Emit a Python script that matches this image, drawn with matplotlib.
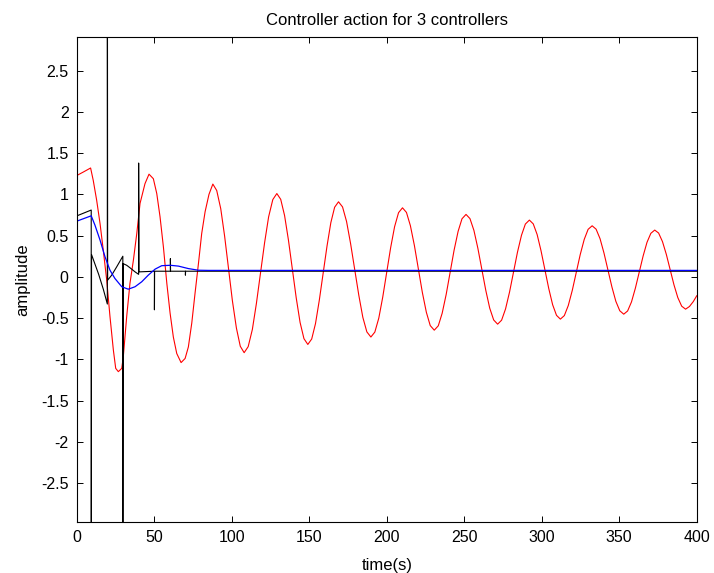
import matplotlib
matplotlib.use("Agg")
import matplotlib.pyplot as plt
from matplotlib.ticker import FormatStrFormatter

plt.rcParams['font.family'] = ['Liberation Sans', 'DejaVu Sans']
plt.rcParams['axes.unicode_minus'] = False

title = "Controller action for 3 controllers"
xlabel = "time(s)"
ylabel = "amplitude"
xticks = [0, 50, 100, 150, 200, 250, 300, 350, 400]
yticks = [-2.5, -2, -1.5, -1, -0.5, 0, 0.5, 1, 1.5, 2, 2.5]

# red controller
red_t = [0, 4, 8.8, 10.5, 12.7, 14.9, 17.0, 19.2, 21.3, 23.5, 25.0, 26.7, 28.9, 29.9,
         32.1, 34.2, 36.4, 38.6, 40.7, 43.9, 46.5, 49.3, 51.5, 53.6, 55.8, 58.0, 60.1,
         62.2, 64.4, 67.2, 69.8, 71.9, 74.1, 76.2, 78.4, 80.5, 82.7, 85.2, 87.7,
         90.2, 92.8, 95.3, 97.8, 100.3, 102.9, 105.4, 107.9,
         110.5, 113.2, 115.8, 118.45, 121.1, 123.7, 126.4, 129.0,
         131.5, 134.0, 136.5, 139.0, 141.5, 144.0, 146.5, 149.0,
         151.5, 153.95, 156.4, 158.9, 161.4, 163.85, 166.3, 168.8,
         171.4, 174.0, 176.6, 179.25, 181.9, 184.5, 187.1, 189.7,
         192.25, 194.8, 197.35, 199.9, 202.45, 205.0, 207.55, 210.1,
         212.66, 215.2, 217.8, 220.35, 222.9, 225.5, 228.0, 230.6,
         233.2, 235.7, 238.3, 240.85, 243.4, 246.0, 248.5, 251.1,
         253.65, 256.2, 258.75, 261.3, 263.85, 266.4, 268.95, 271.5,
         274.06, 276.6, 279.2, 281.75, 284.3, 286.9, 289.4, 292.0,
         294.5, 297.0, 299.5, 302.0, 304.5, 307.0, 309.5, 312.0,
         314.56, 317.1, 319.7, 322.25, 324.8, 327.4, 329.9, 332.5,
         335.05, 337.6, 340.15, 342.7, 345.25, 347.8, 350.35, 352.9,
         355.4, 357.9, 360.4, 362.9, 365.4, 367.9, 370.4, 372.9,
         375.4, 377.9, 380.4, 382.85, 385.3, 387.8, 390.3, 392.8,
         395.3, 397.8, 400.0]
red_v = [1.23, 1.27, 1.32, 1.17, 0.93, 0.645, 0.32, -0.04, -0.48, -0.89, -1.11, -1.15, -1.11, -0.97,
         -0.48, -0.08, 0.2, 0.525, 0.89, 1.13, 1.245, 1.19, 1.01, 0.73, 0.36, -0.08, -0.44,
         -0.73, -0.93, -1.04, -0.99, -0.85, -0.56, -0.2, 0.16, 0.525, 0.79, 1.0, 1.125,
         1.047, 0.826, 0.493, 0.103, -0.288, -0.621, -0.842, -0.92,
         -0.847, -0.638, -0.324, 0.045, 0.414, 0.728, 0.937, 1.01,
         0.94, 0.743, 0.444, 0.095, -0.254, -0.553, -0.750, -0.82,
         -0.754, -0.567, -0.285, 0.045, 0.375, 0.657, 0.844, 0.91,
         0.848, 0.671, 0.403, 0.09, -0.223, -0.491, -0.668, -0.73,
         -0.67, -0.501, -0.246, 0.054, 0.353, 0.608, 0.778, 0.837,
         0.781, 0.620, 0.378, 0.095, -0.188, -0.430, -0.591, -0.647,
         -0.594, -0.442, -0.213, 0.055, 0.323, 0.552, 0.704, 0.757,
         0.706, 0.563, 0.346, 0.092, -0.163, -0.380, -0.523, -0.574,
         -0.526, -0.39, -0.184, 0.057, 0.298, 0.504, 0.64, 0.688,
         0.642, 0.513, 0.317, 0.088, -0.142, -0.338, -0.467, -0.513,
         -0.47, -0.348, -0.163, 0.053, 0.269, 0.454, 0.576, 0.619,
         0.578, 0.463, 0.288, 0.083, -0.122, -0.297, -0.412, -0.453,
         -0.414, -0.304, -0.138, 0.057, 0.252, 0.418, 0.528, 0.567,
         0.531, 0.427, 0.271, 0.088, -0.096, -0.252, -0.356, -0.392,
         -0.36, -0.30, -0.23]

# black controller (with switching spikes)
black_t = [0, 9.2, 9.2, 9.4, 14, 17, 19.6, 19.6, 19.8, 22.4, 25.6, 29.6, 29.6, 29.8,
           32.1, 34.2, 37.5, 39.8, 39.8, 40.0, 50, 50, 50.1, 60.3, 60.3, 60.4,
           70, 70, 70.1, 400]
black_v = [0.74, 0.81, -5, 0.27, 0.03, -0.15, -0.33, 5, -0.04, 0.02, 0.12, 0.25, -5, 0.16,
           0.14, 0.11, 0.06, 0.03, 1.38, 0.06, 0.068, -0.40, 0.068, 0.068, 0.22, 0.068,
           0.068, 0.02, 0.068, 0.068]

# blue controller
blue_t = [0, 9.2, 11.6, 14.9, 18.1, 21.3, 24.5, 28.9, 33.1, 37.5, 41.8, 46, 50.4,
          54.7, 60.3, 65.5, 71.9, 78.4, 85, 400]
blue_v = [0.676, 0.74, 0.627, 0.445, 0.243, 0.08, -0.02, -0.12, -0.15, -0.12, -0.06,
          0.02, 0.093, 0.135, 0.14, 0.13, 0.10, 0.08, 0.078, 0.078]

fig = plt.figure(figsize=(7.14, 5.73), dpi=100)
ax = fig.add_axes([0.1078, 0.0895, 0.868, 0.8454])

ax.plot(red_t, red_v, color='#ff0000', lw=0.8)
ax.plot(black_t, black_v, color='black', lw=0.8)
ax.plot(blue_t, blue_v, color='#0000ff', lw=0.9)

ax.set_xlim(0, 400)
ax.set_ylim(-2.97, 2.905)
ax.set_xticks(xticks)
ax.set_yticks(yticks)
ax.yaxis.set_major_formatter(FormatStrFormatter('%g'))
ax.tick_params(direction='in', length=4.3, width=0.7, labelsize=11.5,
               top=True, right=True, pad=6)
for s in ax.spines.values():
    s.set_linewidth(0.8)

ax.set_title(title, fontsize=12, pad=9)
ax.set_xlabel(xlabel, fontsize=12, labelpad=9)
ax.set_ylabel(ylabel, fontsize=12, labelpad=8)

fig.savefig("out.png", dpi=100)
